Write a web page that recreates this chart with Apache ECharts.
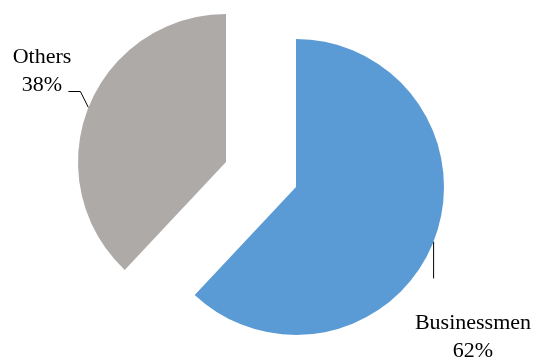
<!DOCTYPE html>
<html>
<head>
<meta charset="utf-8">
<script src="https://cdn.jsdelivr.net/npm/echarts@6/dist/echarts.min.js"></script>
<style>
  html, body { margin: 0; padding: 0; background: #fff; }
  #chart { width: 533px; height: 358px; }
</style>
</head>
<body>
<div id="chart"></div>
<script>
// Share of respondents by occupation
const categories = ['Businessmen', 'Others'];
const shares = [62, 38];
const colors = ['#5B9BD5', '#AEAAA8'];

const chart = echarts.init(document.getElementById('chart'), null, { renderer: 'canvas' });

// Exploded pie: each slice gets its own copy of the pie, shifted outward
// along its bisector; the other slice in that copy is left invisible.
const centers = [[296, 187], [226, 162]];
const labelSpots = [{ x: 473, y: 309 }, { x: 42, y: 43 }];
const serif = '"Liberation Serif", "Times New Roman", serif';

function sliceSeries(k) {
  return {
    type: 'pie',
    center: centers[k],
    radius: [0, 148],
    startAngle: 90,
    clockwise: true,
    percentPrecision: 0,
    silent: true,
    emphasis: { disabled: true },
    data: categories.map((name, i) => ({
      name: name,
      value: shares[i],
      itemStyle: { color: i === k ? colors[i] : 'rgba(0,0,0,0)' },
      label: { show: i === k },
      labelLine: { show: i === k }
    })),
    label: {
      position: 'outside',
      formatter: '{b}\n{d}%',
      fontFamily: serif,
      fontSize: 22,
      lineHeight: 28,
      color: '#000',
      align: 'center',
      overflow: 'none'
    },
    labelLine: {
      length: 20,
      length2: 12,
      lineStyle: { color: '#000', width: 1 }
    },
    labelLayout: function (p) {
      if (p.dataIndex !== k) return {};
      const spot = labelSpots[k];
      const out = { x: spot.x, y: spot.y, align: 'center', verticalAlign: 'top' };
      const start = p.labelLinePoints ? p.labelLinePoints[0] : null;
      if (start) {
        if (k === 0) {
          out.labelLinePoints = [start, [start[0], start[1] + 37], [start[0], start[1] + 37]];
        } else {
          out.labelLinePoints = [start, [start[0] - 8, start[1] - 16], [start[0] - 20, start[1] - 16]];
        }
      }
      return out;
    }
  };
}

chart.setOption({
  animation: false,
  series: [sliceSeries(0), sliceSeries(1)]
});
</script>
</body>
</html>
